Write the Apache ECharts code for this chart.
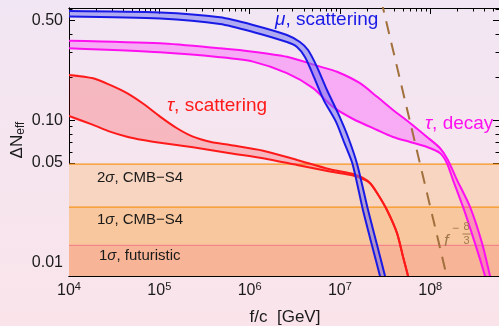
<!DOCTYPE html>
<html>
<head>
<meta charset="utf-8">
<script src="https://cdn.jsdelivr.net/npm/echarts@6/dist/echarts.min.js"></script>
<style>
html, body { margin: 0; padding: 0; }
#main { width: 499px; height: 326px; }
</style>
</head>
<body>
<div id="main"></div>
<script>
// f/c in GeV, Delta N_eff
var muUpper = [[1e4,0.585],[1.02e5,0.571],[4.7e5,0.528],[1.09e6,0.467],[2.59e6,0.397],[3.61e6,0.354],[4.44e6,0.311],[5.57e6,0.237],[7.19e6,0.163],[9.53e6,0.112],[1.23e7,0.0762],[1.55e7,0.0493],[2.05e7,0.0234],[2.58e7,0.0133],[3.16e7,0.00805],[3.5e7,0.0062]];
var muLower = [[1e4,0.536],[1.02e5,0.518],[4.7e5,0.474],[1.09e6,0.417],[2.59e6,0.354],[3.35e6,0.327],[4.1e6,0.278],[5.04e6,0.208],[6.6e6,0.139],[9.06e6,0.0973],[1.12e7,0.0692],[1.38e7,0.0493],[1.8e7,0.0234],[2.26e7,0.0133],[2.78e7,0.00805],[3.08e7,0.0062]];

var decayUpper = [[1e4,0.362],[1.02e5,0.347],[4.7e5,0.320],[1.09e6,0.303],[2.59e6,0.279],[6.03e6,0.238],[9.29e6,0.219],[1.67e7,0.182],[2.58e7,0.146],[3.87e7,0.118],[5.97e7,0.0957],[9.22e7,0.0763],[1.28e8,0.0638],[1.57e8,0.0526],[1.98e8,0.0381],[2.76e8,0.0246],[3.75e8,0.0137],[4.6e8,0.00805],[5.09e8,0.0062]];
var decayLower = [[1e4,0.320],[1.02e5,0.300],[4.7e5,0.277],[1.09e6,0.258],[2.59e6,0.214],[5.04e6,0.168],[8.39e6,0.124],[1.4e7,0.102],[2.58e7,0.0854],[3.87e7,0.0763],[5.97e7,0.0704],[9.22e7,0.0649],[1.28e8,0.0589],[1.53e8,0.0501],[1.79e8,0.0380],[2.31e8,0.0246],[3.13e8,0.0137],[4.05e8,0.00805],[4.48e8,0.0062]];

var scatUpper = [[1e4,0.208],[1.85e4,0.197],[2.84e4,0.177],[4.39e4,0.155],[6.59e4,0.131],[1.02e5,0.106],[1.57e5,0.0878],[2.36e5,0.0766],[3.64e5,0.0706],[6.07e5,0.067],[1.41e6,0.0611],[3.35e6,0.0526],[7.76e6,0.0452],[1.4e7,0.0419],[1.8e7,0.0393],[2.15e7,0.0362],[2.58e7,0.0308],[3.32e7,0.0234],[4.29e7,0.0161],[5e7,0.011],[5.68e7,0.00805],[6.28e7,0.0062]];
var scatLower = [[1e4,0.107],[1.85e4,0.0927],[2.84e4,0.0832],[4.39e4,0.0766],[6.59e4,0.0726],[1.02e5,0.0695],[2.36e5,0.0645],[6.07e5,0.0586],[1.41e6,0.0541],[3.35e6,0.0485],[7.76e6,0.0436],[1.4e7,0.0409],[1.8e7,0.0386],[2.15e7,0.0362],[2.58e7,0.0308],[3.32e7,0.0234],[4.29e7,0.0161],[5e7,0.011],[5.68e7,0.00805],[6.28e7,0.0062]];

// f^(-8/3) guide line, end points
var slopeLine = [[2.86e7,0.7],[1.70e8,0.006]];

// sensitivity bands: 2sigma CMB-S4, 1sigma CMB-S4, 1sigma futuristic
var bandLevels = [0.0491, 0.0245, 0.0132];
var bandColors = ['#f7d5c1', '#f9c79d', '#f7b496'];
var bandEdgeColors = ['#f7941d', '#f7941d', '#f3868a'];

var xRange = [1e4, 5.78e8];
var yRange = [0.00805, 0.614];
var xTicks = [1e4, 1e5, 1e6, 1e7, 1e8];
var yTicks = [0.01, 0.05, 0.1, 0.5];
var yTickLabels = ['0.01', '0.05', '0.10', '0.50'];

var F = '"Liberation Sans", Arial, sans-serif';
var lg = Math.log10;
function toLog(p) { return [lg(p[0]), lg(p[1])]; }

var xMin = lg(xRange[0]), xMax = lg(xRange[1]);
var yMin = lg(yRange[0]), yMax = lg(yRange[1]);

// minor ticks 2..9 x decade
var xMinor = [], yMinor = [];
for (var d = 3; d <= 9; d++) {
    for (var k = 2; k <= 9; k++) {
        var v = lg(k) + d;
        if (v > xMin && v < xMax) xMinor.push(v);
    }
}
for (var d = -3; d <= 0; d++) {
    for (var k = 2; k <= 9; k++) {
        var v = lg(k) + d;
        if (k === 5) continue;
        if (v > yMin && v < yMax) yMinor.push(v);
    }
}
yMinor.push(lg(0.009));

function bandSeries(upper, lower, fill, stroke) {
    var up = upper.map(toLog), lo = lower.map(toLog);
    return {
        type: 'custom',
        coordinateSystem: 'cartesian2d',
        clip: true,
        silent: true,
        data: [up[0]],
        renderItem: function (params, api) {
            var pu = up.map(function (p) { return api.coord(p); });
            var pl = lo.map(function (p) { return api.coord(p); });
            return {
                type: 'group',
                children: [
                    { type: 'polygon', shape: { points: pu.concat(pl.slice().reverse()), smooth: 0.25 }, style: { fill: fill } },
                    { type: 'polyline', shape: { points: pu, smooth: 0.25 }, style: { stroke: stroke, lineWidth: 2, fill: null } },
                    { type: 'polyline', shape: { points: pl, smooth: 0.25 }, style: { stroke: stroke, lineWidth: 2, fill: null } }
                ]
            };
        }
    };
}

var sensSeries = {
    type: 'custom',
    coordinateSystem: 'cartesian2d',
    clip: true,
    silent: true,
    data: [[xMin, yMin]],
    renderItem: function (params, api) {
        var kids = [];
        bandLevels.forEach(function (lv, i) {
            var a = api.coord([xMin, lg(lv)]), b = api.coord([xMax, yMin]);
            kids.push({ type: 'rect', shape: { x: a[0], y: a[1], width: b[0] - a[0], height: b[1] - a[1] }, style: { fill: bandColors[i] } });
        });
        bandLevels.forEach(function (lv, i) {
            var a = api.coord([xMin, lg(lv)]), b = api.coord([xMax, lg(lv)]);
            kids.push({ type: 'line', shape: { x1: a[0], y1: a[1], x2: b[0], y2: b[1] }, style: { stroke: bandEdgeColors[i], lineWidth: 1.2 } });
        });
        return { type: 'group', children: kids };
    }
};

function xAxisDef(pos, ticks, len, labels) {
    return {
        type: 'value', position: pos, min: xMin, max: xMax,
        axisLine: { show: true, onZero: false, lineStyle: { color: '#000', width: 1 } },
        axisTick: { show: true, inside: true, length: len, customValues: ticks, lineStyle: { color: '#000', width: 1 } },
        axisLabel: labels ? {
            customValues: ticks, margin: 5, color: '#1a1a1a',
            formatter: function (v) { return '{b|10}{s|' + Math.round(v) + '}'; },
            rich: {
                b: { fontSize: 16, fontFamily: F, color: '#1a1a1a', lineHeight: 20 },
                s: { fontSize: 11, fontFamily: F, color: '#1a1a1a', verticalAlign: 'top', lineHeight: 12 }
            }
        } : { show: false },
        splitLine: { show: false }
    };
}
function yAxisDef(pos, ticks, len, labels) {
    return {
        type: 'value', position: pos, min: yMin, max: yMax,
        axisLine: { show: true, onZero: false, lineStyle: { color: '#000', width: 1 } },
        axisTick: { show: true, inside: true, length: len, customValues: ticks, lineStyle: { color: '#000', width: 1 } },
        axisLabel: labels ? {
            customValues: ticks, margin: 6, color: '#1a1a1a', fontSize: 16, fontFamily: F,
            formatter: function (v) {
                for (var i = 0; i < yTicks.length; i++) {
                    if (Math.abs(lg(yTicks[i]) - v) < 1e-6) return yTickLabels[i];
                }
                return '';
            }
        } : { show: false },
        splitLine: { show: false }
    };
}

var xMajor = xTicks.map(lg);
var yMajor = yTicks.map(lg);

function txt(x, y, text, rich, color, size, align) {
    return { type: 'text', x: x, y: y, z: 100, silent: true,
        style: { text: text, rich: rich, fill: color, verticalAlign: 'middle', align: align || 'left',
                 fontFamily: F, fontSize: size } };
}
function richSet(size, color) {
    return {
        r: { fontSize: size, fontFamily: F, fill: color },
        i: { fontSize: size, fontFamily: F, fill: color, fontStyle: 'italic' }
    };
}
var slopeColor = '#a27a4e';
var ink = '#1a1a1a';

var chart = echarts.init(document.getElementById('main'));
chart.setOption({
    animation: false,
    backgroundColor: new echarts.graphic.LinearGradient(0, 0, 0, 1, [
        { offset: 0, color: '#f1e6f3' }, { offset: 1, color: '#fae4ea' }
    ]),
    grid: { left: 69, right: 0, top: 8, bottom: 50 },
    xAxis: [
        xAxisDef('bottom', xMajor, 6, true),
        xAxisDef('bottom', xMinor, 3.5, false),
        xAxisDef('top', xMajor, 6, false),
        xAxisDef('top', xMinor, 3.5, false)
    ],
    yAxis: [
        yAxisDef('left', yMajor, 6, true),
        yAxisDef('left', yMinor, 3.5, false),
        yAxisDef('right', yMajor, 6, false),
        yAxisDef('right', yMinor, 3.5, false)
    ],
    series: [
        sensSeries,
        bandSeries(scatUpper, scatLower, 'rgba(255,0,0,0.2)', '#ff1a1a'),
        bandSeries(decayUpper, decayLower, 'rgba(255,0,255,0.25)', '#ff10f0'),
        bandSeries(muUpper, muLower, 'rgba(110,110,240,0.5)', '#1a1ae6'),
        {
            type: 'line', data: slopeLine.map(toLog), showSymbol: false, silent: true,
            lineStyle: { color: '#a2703c', width: 2, type: [13, 9] }
        }
    ],
    graphic: [
        txt(275, 20, '{i|μ}{r|, scattering}', richSet(19, '#1a1ae6'), '#1a1ae6', 19),
        txt(167, 106, '{i|τ}{r|, scattering}', richSet(19, '#ff1a1a'), '#ff1a1a', 19),
        txt(425, 124, '{i|τ}{r|, decay}', richSet(19, '#ff10f0'), '#ff10f0', 19),
        txt(97, 178, '{r|2}{i|σ}{r|, CMB−S4}', richSet(15, ink), ink, 15),
        txt(97, 220, '{r|1}{i|σ}{r|, CMB−S4}', richSet(15, ink), ink, 15),
        txt(99, 256, '{r|1}{i|σ}{r|, futuristic}', richSet(15, ink), ink, 15),
        txt(285, 317, 'f/c  [GeV]', null, ink, 17, 'center'),
        {
            type: 'text', x: 17, y: 140, rotation: Math.PI / 2, z: 100, silent: true,
            style: {
                text: '{a|ΔN}{b|eff}', align: 'center', verticalAlign: 'middle',
                rich: {
                    a: { fontSize: 17, fontFamily: F, fill: ink },
                    b: { fontSize: 12, fontFamily: F, fill: ink, padding: [8, 0, 0, 0] }
                }
            }
        },
        // f^(-8/3) label
        txt(444, 241, '{i|f}', richSet(17, slopeColor), slopeColor, 17),
        txt(452, 229, '−', null, slopeColor, 12),
        txt(466.5, 227, '8', null, slopeColor, 11, 'center'),
        { type: 'line', z: 100, silent: true, shape: { x1: 462.5, y1: 234, x2: 470.5, y2: 234 }, style: { stroke: slopeColor, lineWidth: 1 } },
        txt(466.5, 241, '3', null, slopeColor, 11, 'center')
    ]
});
</script>
</body>
</html>
